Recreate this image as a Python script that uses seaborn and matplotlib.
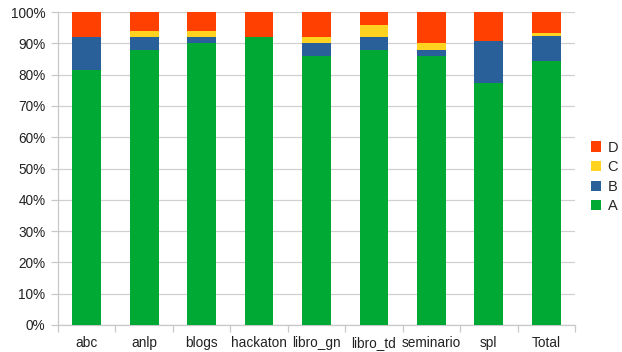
import numpy as np
import pandas as pd
import matplotlib
matplotlib.use("Agg")
import matplotlib.pyplot as plt
import seaborn as sns
from matplotlib.patches import Patch
from matplotlib.ticker import PercentFormatter, FixedLocator

categories = ["abc", "anlp", "blogs", "hackaton", "libro_gn", "libro_td",
              "seminario", "spl", "Total"]
A = [81.5, 88.0, 90.0, 92.0, 86.0, 88.0, 86.0, 77.4, 84.3]
B = [10.5, 4.0, 2.0, 0.0, 4.0, 4.0, 2.0, 13.2, 8.1]
C = [0.0, 2.0, 2.0, 0.0, 2.0, 4.0, 2.0, 0.0, 0.9]
D = [8.0, 6.0, 6.0, 8.0, 8.0, 4.0, 10.0, 9.4, 6.7]

series = ["A", "B", "C", "D"]
colors = {"A": "#00a933", "B": "#2a6099", "C": "#ffd320", "D": "#ff4000"}

df = pd.DataFrame({"category": categories, "A": A, "B": B, "C": C, "D": D})
# cumulative tops so each segment is drawn over the ones above it
df["top_A"] = df["A"]
df["top_B"] = df["top_A"] + df["B"]
df["top_C"] = df["top_B"] + df["C"]
df["top_D"] = df["top_C"] + df["D"]

sns.set_style("white")
plt.rcParams["font.family"] = ["Liberation Sans", "DejaVu Sans"]

fig = plt.figure(figsize=(6.22, 3.52), dpi=100)
ax = fig.add_axes([58 / 622, 27 / 352, 517 / 622, 313 / 352])

for s in reversed(series):
    sns.barplot(data=df, x="category", y=f"top_{s}", color=colors[s],
                width=0.5, saturation=1, ax=ax, linewidth=0, zorder=3)

ax.set_ylim(0, 100)
ax.set_xlim(-0.5, len(categories) - 0.5)
ax.yaxis.set_major_locator(FixedLocator(np.arange(0, 101, 10)))
ax.yaxis.set_major_formatter(PercentFormatter(decimals=0))
ax.grid(axis="y", color="#d0d0d0", linewidth=0.9, zorder=0)
ax.set_axisbelow(True)
ax.set_xlabel("")
ax.set_ylabel("")

for side in ["top", "right"]:
    ax.spines[side].set_visible(False)
for side in ["left", "bottom"]:
    ax.spines[side].set_color("#c8c8c8")
    ax.spines[side].set_linewidth(0.9)

# category boundary ticks on the x axis, labels centred under bars
ax.set_xticks(np.arange(-0.5, len(categories), 1.0))
ax.set_xticklabels([])
ax.set_xticks(np.arange(len(categories)), minor=True)
ax.set_xticklabels(categories, minor=True)
ax.tick_params(axis="x", which="major", length=5, color="#c8c8c8", width=0.9,
               direction="out", bottom=True)
ax.tick_params(axis="x", which="minor", length=0, pad=16, labelsize=9.8,
               labelcolor="#222222")
for lab in ax.get_xticklabels(minor=True):
    lab.set_verticalalignment("baseline")
ax.tick_params(axis="y", length=5, color="#c8c8c8", width=0.9, direction="out",
               left=True, pad=4, labelsize=9.8, labelcolor="#222222")

handles = [Patch(facecolor=colors[s], edgecolor="none", label=s)
           for s in reversed(series)]
fig.legend(handles=handles, loc="center left", bbox_to_anchor=(585 / 622, 175 / 352),
           frameon=False, fontsize=10.5, handlelength=0.7, handleheight=0.7,
           handletextpad=0.45, labelspacing=0.38, borderaxespad=0)

fig.savefig("out.png", dpi=100)
